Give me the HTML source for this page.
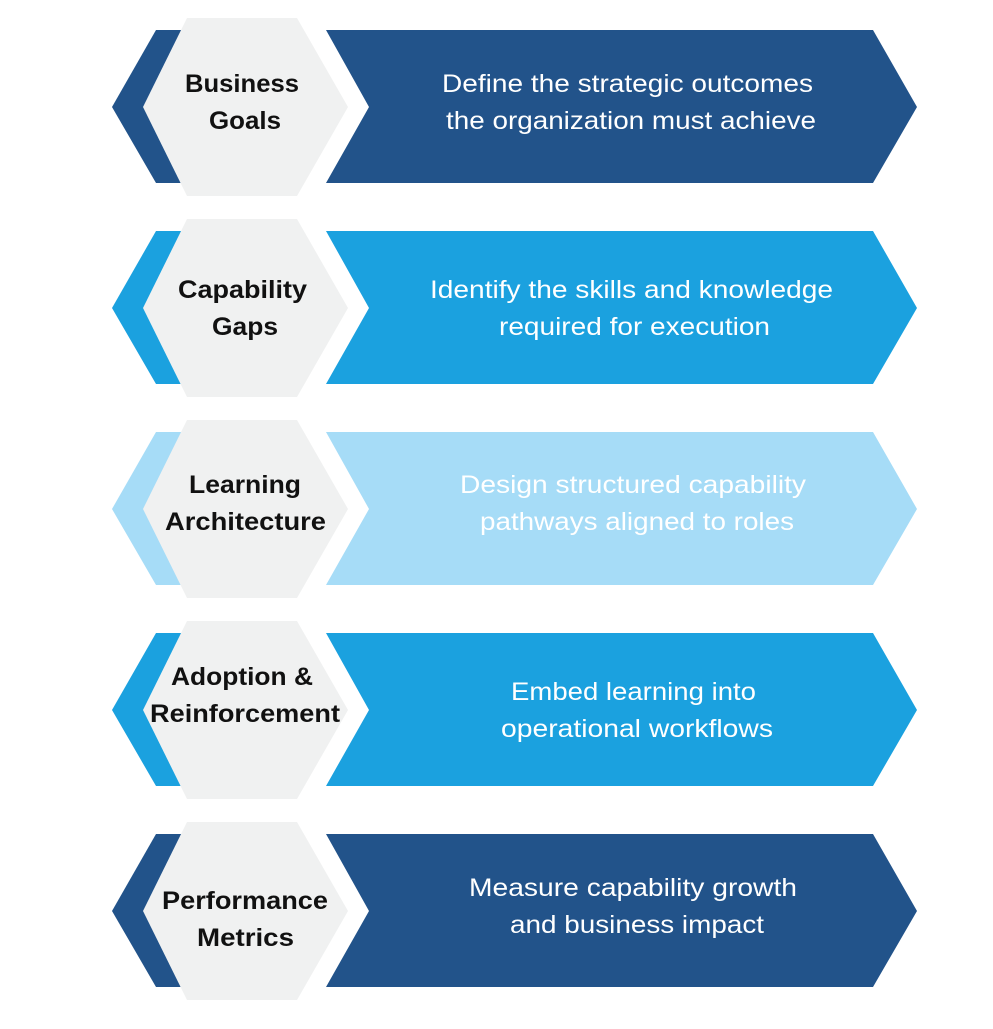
<!DOCTYPE html>
<html><head><style>
body{margin:0;background:#fff;}
svg text{font-family:"Liberation Sans",sans-serif;font-size:25px;}
.b{font-weight:bold;fill:#111;}
.w{fill:#fff;}
</style></head><body>
<svg width="993" height="1024" viewBox="0 0 993 1024" xmlns="http://www.w3.org/2000/svg">
<g>
<polygon points="156,30 220,30 220,183 156,183 112,107" fill="#22538a"/>
<polygon points="326,30 873,30 917,107 873,183 326,183 369,107" fill="#22538a"/>
<polygon points="187,18 297,18 348,107 297,196 187,196 143,107" fill="#f0f1f1"/>
<text class="b" x="185" y="92" textLength="114" lengthAdjust="spacingAndGlyphs">Business</text>
<text class="b" x="209" y="129" textLength="72" lengthAdjust="spacingAndGlyphs">Goals</text>
<text class="w" x="442" y="92" textLength="371" lengthAdjust="spacingAndGlyphs">Define the strategic outcomes</text>
<text class="w" x="446" y="129" textLength="370" lengthAdjust="spacingAndGlyphs">the organization must achieve</text>
</g>
<g transform="translate(0,201)">
<polygon points="156,30 220,30 220,183 156,183 112,107" fill="#1ba1df"/>
<polygon points="326,30 873,30 917,107 873,183 326,183 369,107" fill="#1ba1df"/>
<polygon points="187,18 297,18 348,107 297,196 187,196 143,107" fill="#f0f1f1"/>
<text class="b" x="178" y="97" textLength="129" lengthAdjust="spacingAndGlyphs">Capability</text>
<text class="b" x="212" y="134" textLength="66" lengthAdjust="spacingAndGlyphs">Gaps</text>
<text class="w" x="430" y="97" textLength="403" lengthAdjust="spacingAndGlyphs">Identify the skills and knowledge</text>
<text class="w" x="499" y="134" textLength="271" lengthAdjust="spacingAndGlyphs">required for execution</text>
</g>
<g transform="translate(0,402)">
<polygon points="156,30 220,30 220,183 156,183 112,107" fill="#a6dcf7"/>
<polygon points="326,30 873,30 917,107 873,183 326,183 369,107" fill="#a6dcf7"/>
<polygon points="187,18 297,18 348,107 297,196 187,196 143,107" fill="#f0f1f1"/>
<text class="b" x="189" y="91" textLength="112" lengthAdjust="spacingAndGlyphs">Learning</text>
<text class="b" x="165" y="128" textLength="161" lengthAdjust="spacingAndGlyphs">Architecture</text>
<text class="w" x="460" y="91" textLength="346" lengthAdjust="spacingAndGlyphs">Design structured capability</text>
<text class="w" x="480" y="128" textLength="314" lengthAdjust="spacingAndGlyphs">pathways aligned to roles</text>
</g>
<g transform="translate(0,603)">
<polygon points="156,30 220,30 220,183 156,183 112,107" fill="#1ba1df"/>
<polygon points="326,30 873,30 917,107 873,183 326,183 369,107" fill="#1ba1df"/>
<polygon points="187,18 297,18 348,107 297,196 187,196 143,107" fill="#f0f1f1"/>
<text class="b" x="171" y="82" textLength="142" lengthAdjust="spacingAndGlyphs">Adoption &amp;</text>
<text class="b" x="150" y="119" textLength="190" lengthAdjust="spacingAndGlyphs">Reinforcement</text>
<text class="w" x="511" y="97" textLength="245" lengthAdjust="spacingAndGlyphs">Embed learning into</text>
<text class="w" x="501" y="134" textLength="272" lengthAdjust="spacingAndGlyphs">operational workflows</text>
</g>
<g transform="translate(0,804)">
<polygon points="156,30 220,30 220,183 156,183 112,107" fill="#22538a"/>
<polygon points="326,30 873,30 917,107 873,183 326,183 369,107" fill="#22538a"/>
<polygon points="187,18 297,18 348,107 297,196 187,196 143,107" fill="#f0f1f1"/>
<text class="b" x="162" y="105" textLength="166" lengthAdjust="spacingAndGlyphs">Performance</text>
<text class="b" x="197" y="142" textLength="97" lengthAdjust="spacingAndGlyphs">Metrics</text>
<text class="w" x="469" y="92" textLength="328" lengthAdjust="spacingAndGlyphs">Measure capability growth</text>
<text class="w" x="510" y="129" textLength="254" lengthAdjust="spacingAndGlyphs">and business impact</text>
</g>
</svg>
</body></html>
